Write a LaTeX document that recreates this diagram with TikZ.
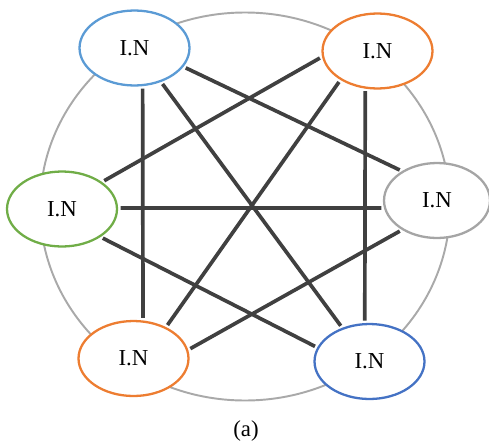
\documentclass[tikz,border=0pt]{standalone}
\usepackage{fontspec}
\setmainfont{Liberation Serif}
\usepackage{xcolor}
\usepackage{tikz}
\usetikzlibrary{shapes.geometric}
\definecolor{ringgray}{HTML}{A9A9A9}
\definecolor{linkgray}{HTML}{404040}
\definecolor{skyblue}{HTML}{5B9BD5}
\definecolor{royalblue}{HTML}{4472C4}
\definecolor{tangerine}{HTML}{ED7D31}
\definecolor{leafgreen}{HTML}{70AD47}
\definecolor{nodegray}{HTML}{A5A5A5}

\begin{document}
\begin{tikzpicture}[
  x=0.02cm, y=-0.02cm,
  inode/.style={ellipse, draw, line width=1.3pt, fill=white, inner sep=0pt,
    minimum width=2.2cm, minimum height=1.5cm, font=\fontsize{13}{15}\selectfont},
  link/.style={draw=linkgray, line width=2.1pt, shorten >=1.4pt, shorten <=1.4pt},
  lbl/.style={font=\fontsize{13}{15}\selectfont}
]
\useasboundingbox (0,0) rectangle (489,446);

% outer ring
\coordinate (ring) at (245,206.5);
\draw[ringgray, line width=1.1pt] (ring) ellipse [x radius=205, y radius=194];

% nodes on the ring
\node[inode, draw=skyblue] (n1) at (134.5,48) {I.N};
\node[inode, draw=tangerine] (n2) at (377.5,51) {I.N};
\node[inode, draw=leafgreen] (n3) at (62,209) {I.N};
\node[inode, draw=nodegray, minimum width=2.12cm] (n4) at (437,200.5) {I.N};
\node[inode, draw=tangerine] (n5) at (133.5,358.5) {I.N};
\node[inode, draw=royalblue] (n6) at (369.5,361.5) {I.N};

% caption
\node[lbl] (cap) at (246,431) {(a)};

\foreach \a/\b in {n1.-21/n4.140, n1.-78/n5.76, n1.-52/n6.129,
                   n2.-174/n3.34, n2.-142/n5.44, n2.-108/n6.97,
                   n3.1/n4.-172, n3.-36/n6.165, n4.-140/n5.9}
  \draw[link] (\a) -- (\b);
\end{tikzpicture}
\end{document}
